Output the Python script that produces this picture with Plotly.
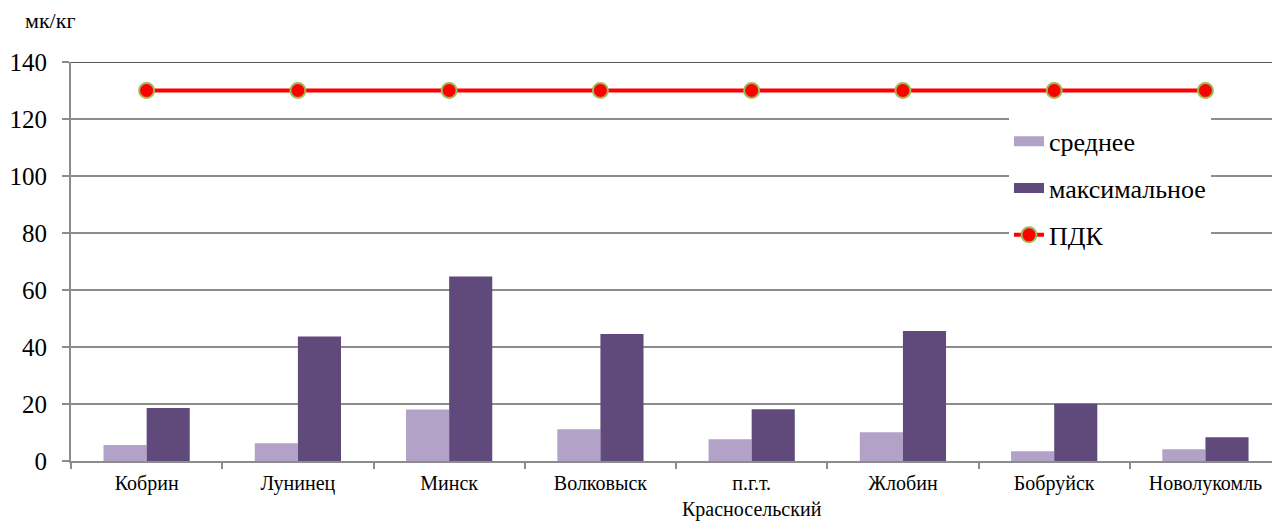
import plotly.graph_objects as go

categories = ["Кобрин", "Лунинец", "Минск", "Волковыск", "п.г.т.<br>Красносельский",
              "Жлобин", "Бобруйск", "Новолукомль"]
avg_vals = [5.6, 6.2, 18.1, 11.1, 7.6, 10.1, 3.4, 4.1]
max_vals = [18.6, 43.7, 64.7, 44.6, 18.2, 45.6, 20.1, 8.3]
pdk_vals = [130] * 8
y_ticks = [0, 20, 40, 60, 80, 100, 120, 140]

FONT = "Liberation Serif"
GRID = "#8c8c8c"
C_AVG = "#B3A2C7"
C_MAX = "#604A7B"

fig = go.Figure()
fig.add_trace(go.Bar(x=categories, y=avg_vals, name="среднее",
                     marker=dict(color=C_AVG, line=dict(width=0)), showlegend=False))
fig.add_trace(go.Bar(x=categories, y=max_vals, name="максимальное",
                     marker=dict(color=C_MAX, line=dict(width=0)), showlegend=False))
fig.add_trace(go.Scatter(x=categories, y=pdk_vals, name="ПДК", mode="lines+markers",
                         line=dict(color="#FF0000", width=4),
                         marker=dict(color="#FF0000", size=15,
                                     line=dict(color="#9BBB59", width=2)),
                         showlegend=False))
# legend entries
fig.add_trace(go.Scatter(x=[None], y=[None], name="среднее", mode="lines",
                         line=dict(color=C_AVG, width=13), legendgroup="a"))
fig.add_trace(go.Scatter(x=[None], y=[None], name="максимальное", mode="lines",
                         line=dict(color=C_MAX, width=13), legendgroup="b"))
fig.add_trace(go.Scatter(x=[None], y=[None], name="ПДК", mode="lines+markers",
                         line=dict(color="#FF0000", width=4),
                         marker=dict(color="#FF0000", size=15,
                                     line=dict(color="#9BBB59", width=2)),
                         legendgroup="c"))

fig.update_layout(
    width=1272, height=521,
    margin=dict(l=71, r=0, t=62, b=60, autoexpand=False),
    paper_bgcolor="white", plot_bgcolor="white",
    barmode="group", bargap=0.43, bargroupgap=0,
    font=dict(family=FONT, color="black"),
    legend=dict(x=0.781, y=0.86, xanchor="left", yanchor="top",
                bgcolor="white", borderwidth=0,
                font=dict(family=FONT, size=26, color="black"),
                tracegroupgap=10, traceorder="grouped"),
    xaxis=dict(range=[-0.5, 7.44], showline=True, linecolor=GRID, linewidth=2,
               ticks="outside", ticklen=6, tickcolor=GRID, tickwidth=2,
               tickson="boundaries", showgrid=False, ticklabelstandoff=3,
               tickangle=0, automargin=False,
               tickfont=dict(family=FONT, size=20, color="black")),
    yaxis=dict(range=[0, 140], tickvals=y_ticks, showline=True, linecolor=GRID, linewidth=2,
               ticks="outside", ticklen=7, tickcolor=GRID, tickwidth=2,
               showgrid=True, gridcolor=GRID, gridwidth=1.5, zeroline=False,
               ticklabelstandoff=10, automargin=False,
               tickfont=dict(family=FONT, size=25, color="black")),
    annotations=[dict(text="мк/кг", x=0, y=1, xref="paper", yref="paper",
                      xanchor="left", yanchor="middle", xshift=-48, yshift=42,
                      showarrow=False, font=dict(family=FONT, size=22, color="black"))],
    shapes=[dict(type="line", xref="paper", yref="y", x0=0, x1=1, y0=140, y1=140,
                 line=dict(color="#595959", width=2))],
)

fig.write_html("out.html")
